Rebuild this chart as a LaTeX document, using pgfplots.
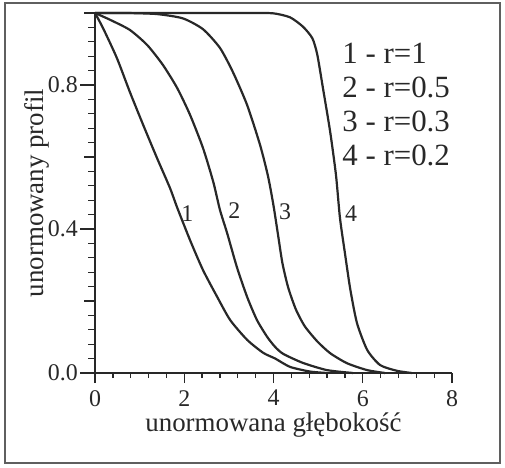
\documentclass[border=0pt]{standalone}
\usepackage{fontspec}
\setmainfont{Liberation Serif}
\usepackage{pgfplots}
\pgfplotsset{compat=1.18}
\definecolor{ink}{RGB}{40,40,40}
\definecolor{framegray}{RGB}{95,95,95}

% normalised profiles for four values of r
\pgfplotstableread{
x y
0 1
0.18 0.958
0.49 0.875
0.78 0.781
1.08 0.689
1.39 0.597
1.68 0.514
1.84 0.460
2.13 0.369
2.42 0.286
2.74 0.211
3.03 0.147
3.41 0.092
3.77 0.056
4.04 0.040
4.37 0.017
4.82 0.004
5.20 0.0
}\rone
\pgfplotstableread{
x y
0 1
0.34 0.981
0.78 0.953
1.17 0.911
1.52 0.856
1.84 0.792
2.13 0.717
2.42 0.625
2.65 0.531
2.80 0.453
2.96 0.389
3.18 0.294
3.41 0.211
3.63 0.147
3.86 0.100
4.04 0.072
4.22 0.053
4.66 0.028
5.20 0.008
5.78 0.0
}\rhalf
\pgfplotstableread{
x y
0 1
0.7 1
1.39 0.997
1.97 0.985
2.42 0.955
2.80 0.903
3.09 0.836
3.41 0.744
3.70 0.633
3.88 0.545
4.00 0.465
4.10 0.385
4.20 0.305
4.33 0.237
4.50 0.177
4.70 0.130
4.98 0.088
5.27 0.055
5.65 0.027
6.10 0.008
6.50 0.0
}\rthree
\pgfplotstableread{
x y
0 1
2.0 1
3.5 1
4.0 0.999
4.37 0.988
4.66 0.962
4.87 0.930
4.98 0.885
5.11 0.790
5.27 0.670
5.40 0.550
5.49 0.430
5.61 0.325
5.72 0.233
5.87 0.139
6.10 0.064
6.39 0.022
6.77 0.006
7.10 0.0
}\rtwo

\begin{document}
\begin{tikzpicture}
\useasboundingbox (0,0) rectangle (505bp,468bp);
\draw[framegray, line width=1.4bp] (5bp,5bp) rectangle (500bp,465bp);
\begin{axis}[
  at={(95bp,95bp)}, anchor=south west,
  scale only axis, width=357bp, height=360bp,
  xmin=0, xmax=8, ymin=0, ymax=1,
  enlargelimits=false, clip=false,
  axis x line=bottom, axis y line=left,
  axis line style={-, line width=1.6bp, draw=ink},
  tick align=outside,
  every tick/.style={ink, line width=1.3bp},
  major tick length=15bp, minor tick length=7bp,
  x tick style={/pgfplots/major tick length=10bp, /pgfplots/minor tick length=5bp},
  xtick={0,2,4,6,8}, minor x tick num=4,
  ytick={0,0.4,0.8}, yticklabels={0.0,0.4,0.8},
  minor ytick={0.04,0.08,0.12,0.16,0.24,0.28,0.32,0.36,0.44,0.48,0.52,0.56,0.64,0.68,0.72,0.76,0.84,0.88,0.92,0.96},
  extra y ticks={0.2,0.6,1.0}, extra y tick labels={,,},
  extra y tick style={major tick length=11bp},
  /pgf/number format/assume math mode=true,
  ticklabel style={font=\fontsize{24}{26}\selectfont, text=ink},
  xticklabel style={inner sep=2bp},
  yticklabel style={inner sep=2bp},
  label style={font=\fontsize{27}{30}\selectfont, text=ink},
  xlabel={unormowana głębokość},
  ylabel={unormowany profil},
  xlabel style={at={(axis description cs:0.5,-0.145)}, anchor=center},
  ylabel style={at={(axis description cs:-0.162,0.5)}, anchor=center},
]
\addplot[ink, line width=2.2bp, smooth, tension=0.4] table {\rone};
\addplot[ink, line width=2.2bp, smooth, tension=0.4] table {\rhalf};
\addplot[ink, line width=2.2bp, smooth, tension=0.4] table {\rthree};
\addplot[ink, line width=2.2bp, smooth, tension=0.4] table {\rtwo};

\node[font=\fontsize{24}{24}\selectfont, text=ink] at (axis cs:2.07,0.444) {1};
\node[font=\fontsize{24}{24}\selectfont, text=ink] at (axis cs:3.12,0.450) {2};
\node[font=\fontsize{24}{24}\selectfont, text=ink] at (axis cs:4.26,0.447) {3};
\node[font=\fontsize{24}{24}\selectfont, text=ink] at (axis cs:5.74,0.444) {4};

\node[anchor=north west, inner sep=0pt, align=left, text=ink,
      font=\fontsize{31}{34}\selectfont] at (axis cs:5.54,0.917)
  {1 - r=1\\2 - r=0.5\\3 - r=0.3\\4 - r=0.2};
\end{axis}
\end{tikzpicture}
\end{document}
